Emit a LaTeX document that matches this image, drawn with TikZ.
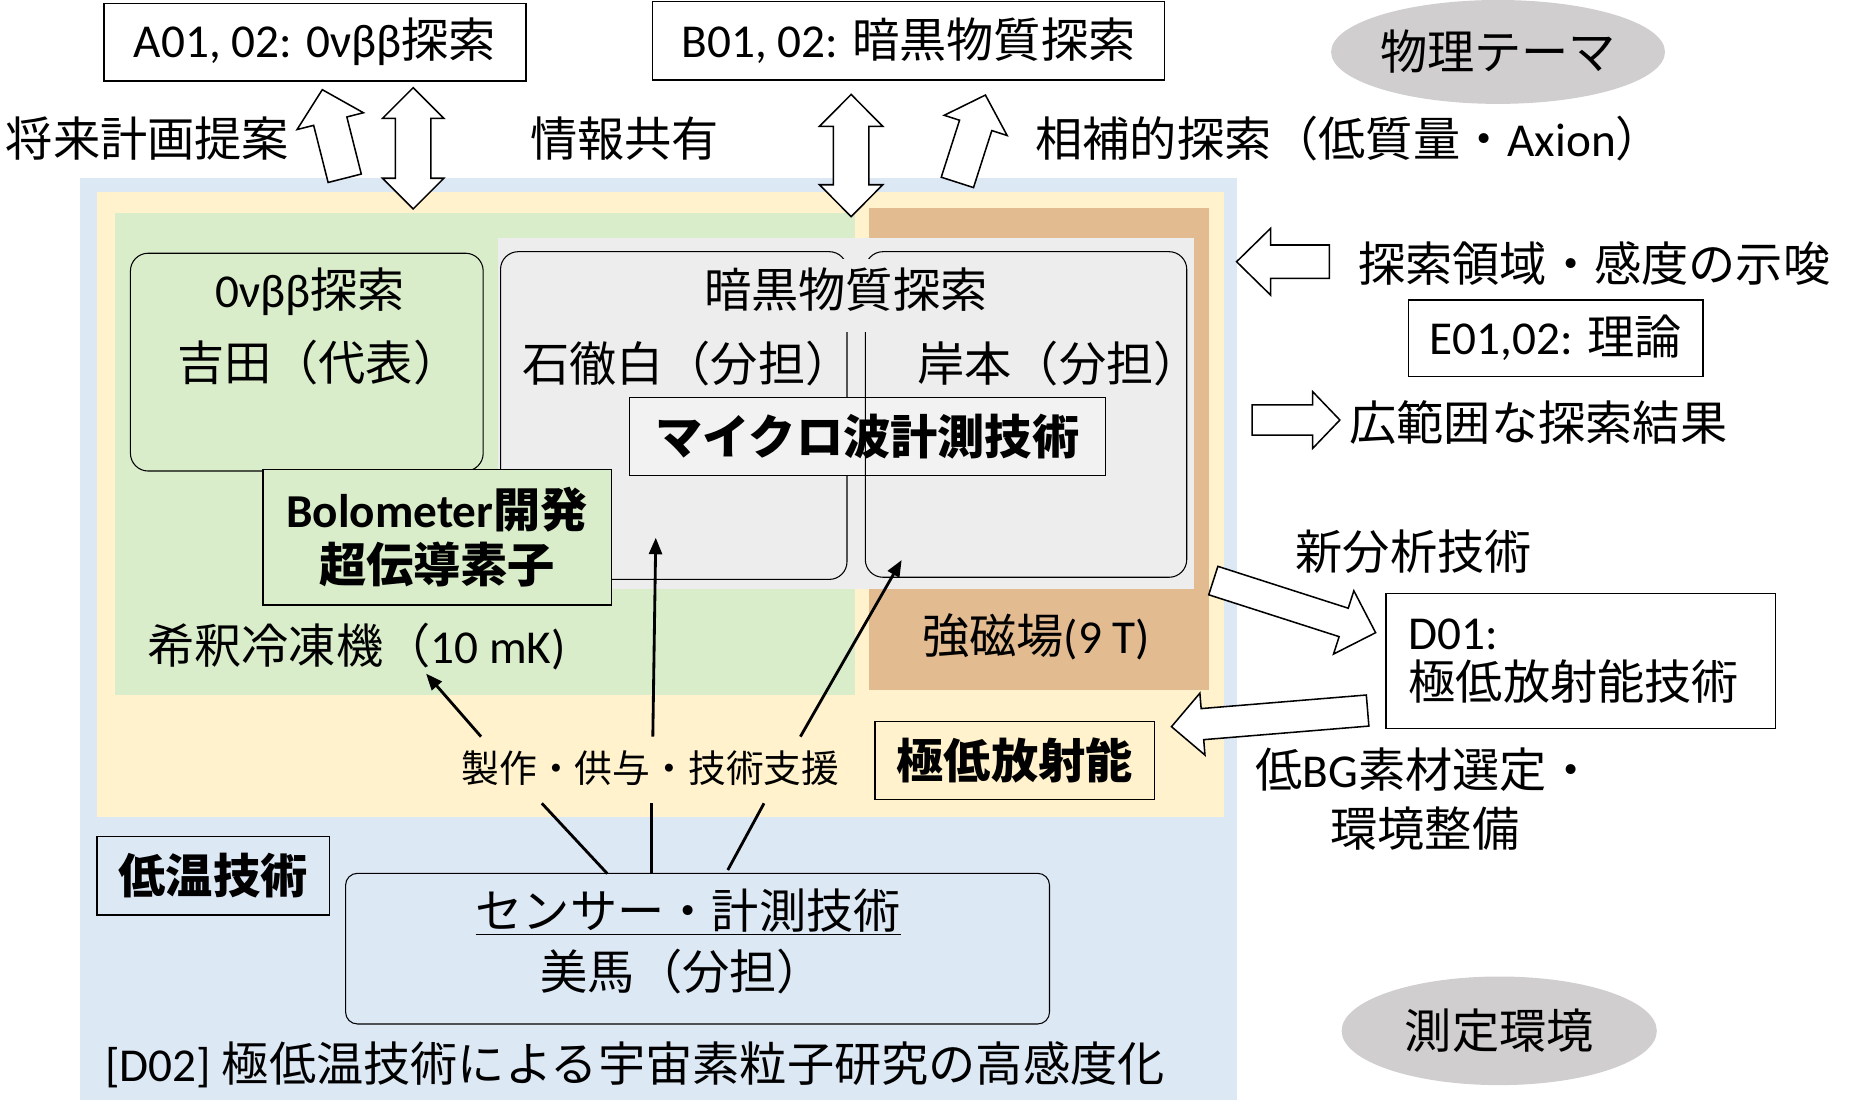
\documentclass[tikz,border=0pt]{standalone}
\usepackage{fontspec}
\setmainfont{Noto Sans CJK JP}
\newfontfamily\lat{Carlito}
\usetikzlibrary{shapes.geometric,arrows.meta}
\definecolor{bluebg}{HTML}{DDE8F5}
\definecolor{yellowbg}{HTML}{FFF2CC}
\definecolor{greenbg}{HTML}{DAEDCA}
\definecolor{brownbg}{HTML}{E2BB91}
\definecolor{graybg}{HTML}{EDEDED}
\definecolor{microbg}{HTML}{F2F2F2}
\definecolor{ellgray}{HTML}{D0CECE}
\tikzset{
  mybox/.style={draw=black, line width=1.2pt, inner sep=0pt},
  myrbox/.style={draw=black, line width=0.9pt, rounded corners=15pt},
  blk/.style={draw=black, fill=white, line width=1.3pt, line join=miter},
  mytext/.style={inner sep=0pt},
  conn/.style={line width=2.4pt},
  arrowed/.style={-{Triangle[length=14pt,width=11pt]}},
  boldtxt/.style={font=\fontsize{40}{47}\selectfont\bfseries},
  smalltxt/.style={font=\fontsize{32}{38}\selectfont},
  oval/.style={ellipse, fill=ellgray, inner sep=0pt}
}
% single block arrow: tail centre, angle, length, shaft width, head width, head length
\newcommand{\blockarr}[6]{%
  \begin{scope}[shift={#1},rotate=#2]
    \draw[blk] (0,{-#4/2}) -- ({#3-#6},{-#4/2}) -- ({#3-#6},{-#5/2}) -- (#3,0)
      -- ({#3-#6},{#5/2}) -- ({#3-#6},{#4/2}) -- (0,{#4/2}) -- cycle;
  \end{scope}}
% double block arrow: centre, angle, length, shaft width, head width, head length
\newcommand{\dblarr}[6]{%
  \begin{scope}[shift={#1},rotate=#2]
    \draw[blk] ({-#3/2},0) -- ({-#3/2+#6},{#5/2}) -- ({-#3/2+#6},{#4/2})
      -- ({#3/2-#6},{#4/2}) -- ({#3/2-#6},{#5/2}) -- ({#3/2},0)
      -- ({#3/2-#6},{-#5/2}) -- ({#3/2-#6},{-#4/2}) -- ({-#3/2+#6},{-#4/2})
      -- ({-#3/2+#6},{-#5/2}) -- cycle;
  \end{scope}}
\begin{document}
\begin{tikzpicture}[x=1pt,y=-1pt,font=\fontsize{40}{48}\selectfont]
\useasboundingbox (0,0) rectangle (1568,932);
% panels
\fill[bluebg] (68,151) rectangle (1048,932);
\fill[yellowbg] (82,162.4) rectangle (1037,692.4);
\fill[greenbg] (97,180.7) rectangle (724.2,588.5);
\fill[brownbg] (736.4,176.5) rectangle (1024.5,584.5);
\fill[graybg] (421.6,201.6) rectangle (1011.4,499);
% 0vbb group
\draw[myrbox] (110.5,214.5) rectangle (409.3,399);
\node[mytext] (obbt) at (262.6,246.8) {{\lat 0νββ}探索};
\node[mytext] (yoshida) at (270,307.4) {吉田（代表）};
% dark matter group
\draw[myrbox] (424,213.2) rectangle (717.5,490.8);
\node[mybox, fill=microbg, minimum width=403.3pt, minimum height=66.1pt, boldtxt] (micro) at (734.7,369.95) {マイクロ波計測技術};
\draw[myrbox] (733,213.2) rectangle (1005.3,489);
\fill[graybg] (598,219) rectangle (836,281.5);
\node[mytext] (dmt) at (716.6,245.7) {暗黒物質探索};
\node[mytext, anchor=west] (ishi) at (442,307.8) {石徹白（分担）};
\node[mytext, anchor=west] (kishi) at (777,307.8) {岸本（分担）};
% bolometer etc.
\node[mybox, fill=greenbg, minimum width=295pt, minimum height=115pt, align=center, boldtxt] (bolo) at (370.3,455) {{\lat Bolometer}開発\\超伝導素子};
\node[mytext] (dilution) at (302,548) {希釈冷凍機（{\lat 10 mK)}};
\node[mytext] (magnet) at (877.6,539.3) {強磁場{\lat (9 T)}};
\node[mybox, fill=yellowbg, minimum width=236.7pt, minimum height=65.8pt, boldtxt] (lowrad) at (859.5,644.2) {極低放射能};
\node[mybox, fill=bluebg, minimum width=197pt, minimum height=66.3pt, boldtxt] (lowtemp) at (180.5,741.9) {低温技術};
\node[draw=black, line width=0.9pt, rounded corners=10pt, fill=bluebg, minimum width=596.3pt, minimum height=127.6pt] (sensor) at (590.9,803.6) {};
\node[mytext] (sensort) at (583,772.3) {\underline{センサー・計測技術}};
\node[mytext] (bima) at (578,823) {美馬（分担）};
\node[mytext, anchor=west] (d02) at (89,902) {{\lat [D02] }極低温技術による宇宙素粒子研究の高感度化};
% support label and connectors
\node[mytext, smalltxt] (support) at (551,651) {製作・供与・技術支援};
\coordinate (s1) at (514.4,740);
\coordinate (s2) at (552,740);
\coordinate (s3) at (616.5,737);
\coordinate (p1) at (459,680.5);
\coordinate (p2) at (552,680.5);
\coordinate (p3) at (647.2,680.5);
\coordinate (q1) at (407.5,624);
\coordinate (q2) at (553,624);
\coordinate (q3) at (678,624);
\coordinate (t1) at (360.9,570.6);
\coordinate (t2) at (555.5,455.5);
\coordinate (t3) at (763.8,474.4);
\draw[conn] (s1) -- (p1);
\draw[conn] (s2) -- (p2);
\draw[conn] (s3) -- (p3);
\draw[conn, arrowed] (q1) -- (t1);
\draw[conn, arrowed] (q2) -- (t2);
\draw[conn, arrowed] (q3) -- (t3);
% top row
\node[mybox, minimum width=357.5pt, minimum height=65.8pt] (a01) at (266.7,35.7) {{\lat A01, 02: 0νββ}探索};
\node[mybox, minimum width=433.8pt, minimum height=66.4pt] (b01) at (769.7,34.6) {{\lat B01, 02: }暗黒物質探索};
\node[oval, minimum width=266pt, minimum height=88pt] (theme) at (1269,44) {物理テーマ};
\node[mytext] (future) at (125,117) {将来計画提案};
\node[mytext] (share) at (529,117) {情報共有};
\node[mytext] (comp) at (1143,117) {相補的探索（低質量・{\lat Axion}）};
\blockarr{(292,151)}{104.2}{77.4}{29}{58}{27.5}
\dblarr{(350,125.65)}{90}{102.7}{30}{52}{26}
\dblarr{(721,131.75)}{90}{103.5}{30}{53.6}{27}
\blockarr{(811,154.5)}{72.2}{77.7}{28.7}{56}{27}
% right column
\blockarr{(1126.2,221.7)}{180}{78.7}{28.3}{56.5}{28.8}
\node[mytext] (hint) at (1350.5,223) {探索領域・感度の示唆};
\node[mybox, minimum width=249.6pt, minimum height=65pt] (e01) at (1317.8,286.5) {{\lat E01,02: }理論};
\blockarr{(1060.6,355.8)}{0}{74.4}{25.5}{48}{23}
\node[mytext, anchor=west] (wide) at (1143,358) {広範囲な探索結果};
\node[mytext] (newana) at (1197.5,467.3) {新分析技術};
\blockarr{(1027.8,491.8)}{-17.8}{144.4}{25.3}{56.3}{28.4}
\node[mybox, minimum width=330pt, minimum height=114.4pt, align=left, text width=292pt, font=\fontsize{40}{42.4}\selectfont] (d01) at (1339.2,559.8) {{\lat D01:}\\極低放射能技術};
\blockarr{(1158.5,601.9)}{184.7}{166.7}{26.4}{52.6}{26.3}
\node[mytext, align=center, font=\fontsize{40}{49.4}\selectfont] (lowbg) at (1207,677) {低{\lat BG}素材選定・\\環境整備};
\node[oval, minimum width=267pt, minimum height=92pt] (env) at (1270,873.2) {測定環境};
\end{tikzpicture}
\end{document}
